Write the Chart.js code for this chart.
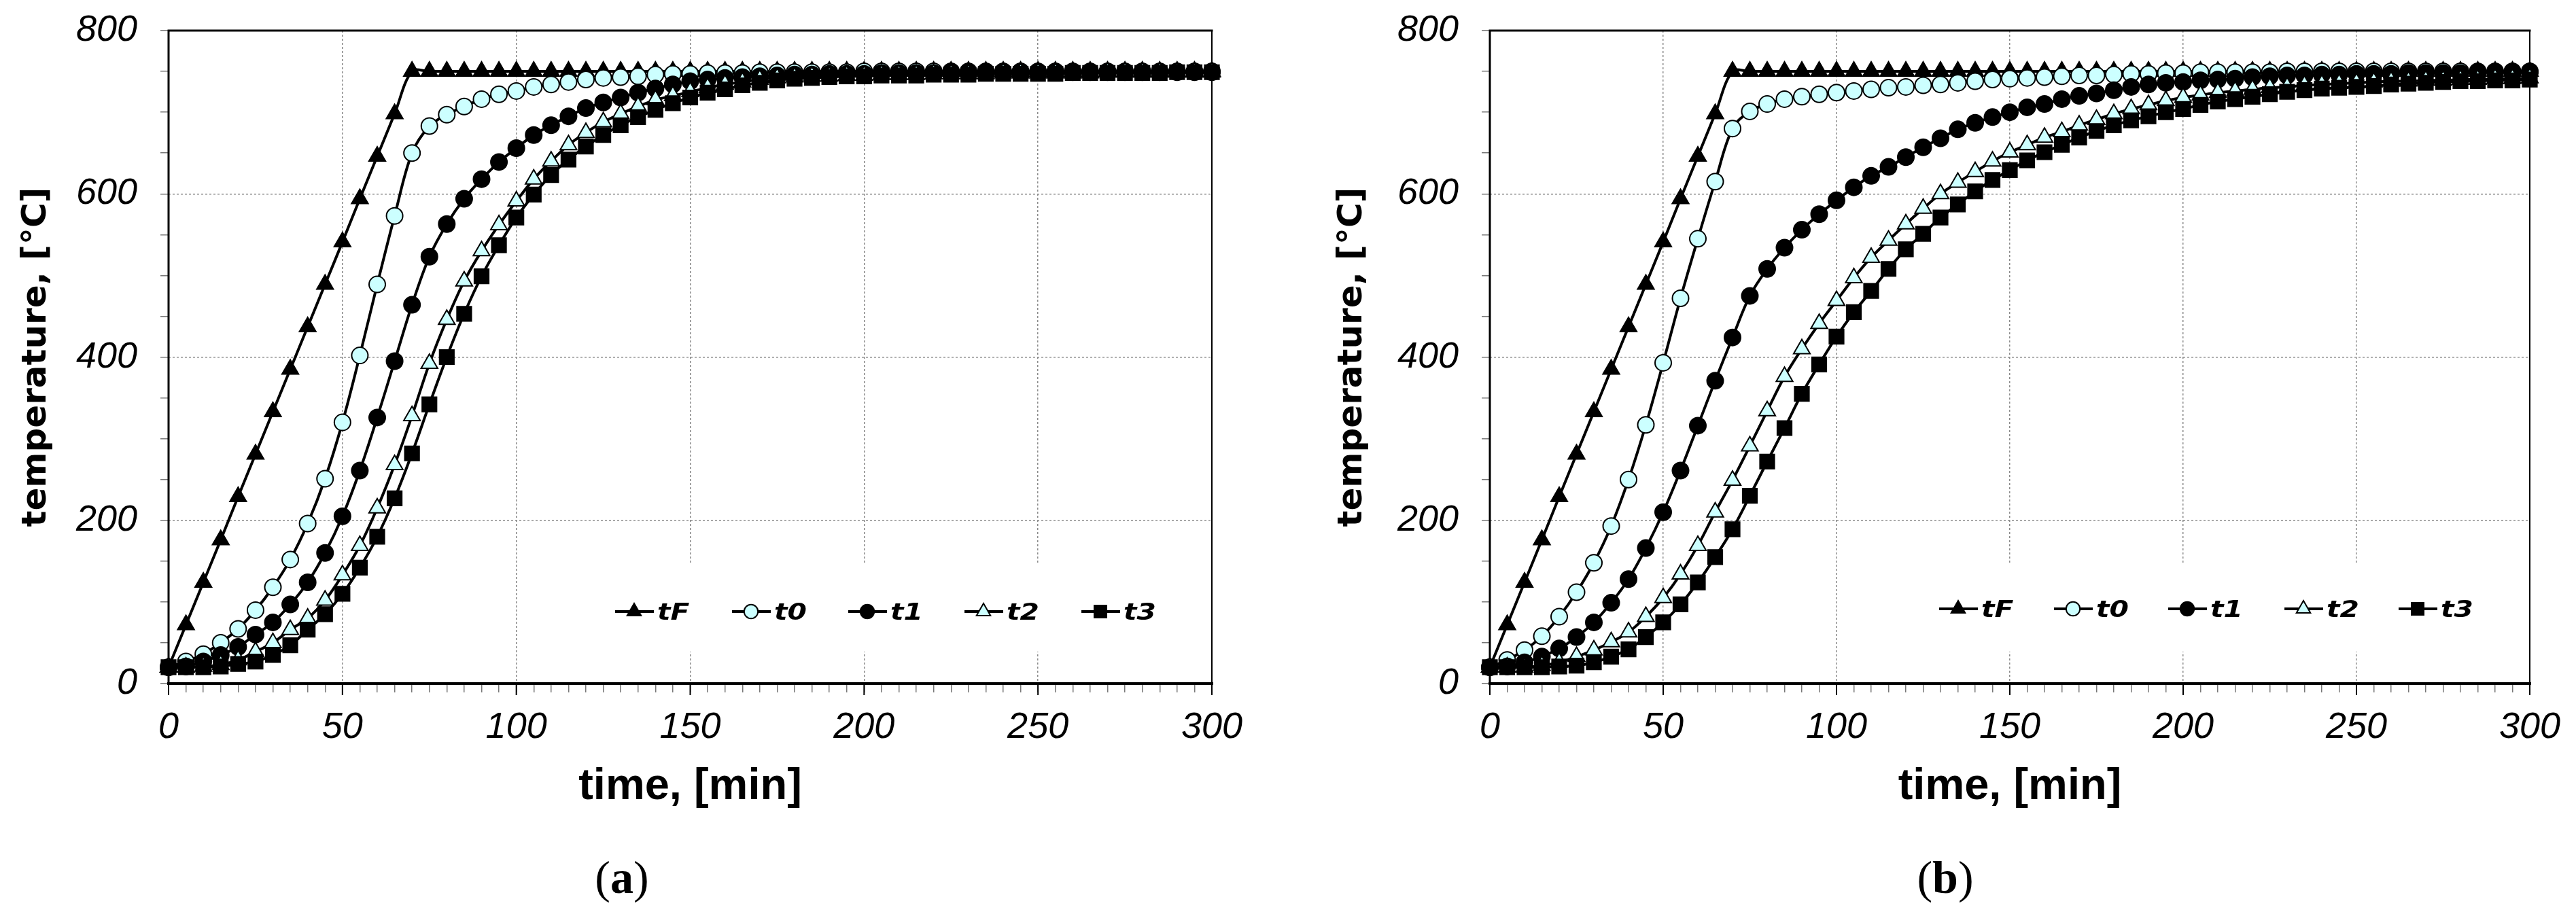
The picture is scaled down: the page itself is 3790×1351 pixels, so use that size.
<!DOCTYPE html>
<html>
<head>
<meta charset="utf-8">
<title>temperature vs time</title>
<script src="https://cdn.jsdelivr.net/npm/chart.js@4.4.0/dist/chart.umd.min.js"></script>
<style>
  html, body { margin: 0; padding: 0; background: #fff; }
  body { width: 3790px; height: 1351px; position: relative; overflow: hidden; }
  .panel { position: absolute; top: 0; width: 1895px; height: 1230px; }
  .cap { position: absolute; top: 1252px; font-family: 'Liberation Serif', serif; font-size: 68px; line-height: 78px; color: #000; transform: translateX(-50%); }
</style>
</head>
<body>
<div class="panel" style="left:0"><canvas id="chart-a"></canvas></div>
<div class="panel" style="left:1895px"><canvas id="chart-b"></canvas></div>
<div class="cap" style="left:915px">(<b>a</b>)</div>
<div class="cap" style="left:2862px">(<b>b</b>)</div>
<script>
'use strict';

// #pragma Data

// time axis, one point every 5 minutes
let times = [
  0, 5, 10, 15, 20, 25, 30, 35, 40, 45,
  50, 55, 60, 65, 70, 75, 80, 85, 90, 95,
  100, 105, 110, 115, 120, 125, 130, 135, 140, 145,
  150, 155, 160, 165, 170, 175, 180, 185, 190, 195,
  200, 205, 210, 215, 220, 225, 230, 235, 240, 245,
  250, 255, 260, 265, 270, 275, 280, 285, 290, 295,
  300
];

let seriesNames = ['tF', 't0', 't1', 't2', 't3'];

let xTickLabels = [0, 50, 100, 150, 200, 250, 300];
let yTickLabels = [0, 200, 400, 600, 800];

// furnace temperature, same in both panels
let tF = [
  20, 72, 124, 176, 229, 281, 333, 385, 437, 489,
  541, 594, 646, 698, 750, 750, 750, 750, 750, 750,
  750, 750, 750, 750, 750, 750, 750, 750, 750, 750,
  750, 750, 750, 750, 750, 750, 750, 750, 750, 750,
  750, 750, 750, 750, 750, 750, 750, 750, 750, 750,
  750, 750, 750, 750, 750, 750, 750, 750, 750, 750,
  750
];

// panel (a)
let t0a = [
  20, 27, 36, 50, 67, 90, 118, 152, 196, 251,
  320, 402, 489, 573, 650, 683, 697, 707, 716, 722,
  726, 731, 734, 737, 740, 742, 743, 744, 746, 747,
  747, 748, 748, 748, 749, 749, 749, 749, 749, 749,
  750, 750, 750, 750, 750, 750, 750, 750, 750, 750,
  750, 750, 750, 750, 750, 750, 750, 750, 750, 750,
  750
];
let t1a = [
  20, 21, 27, 35, 45, 60, 75, 97, 124, 160,
  205, 261, 326, 395, 464, 523, 563, 594, 618, 639,
  656, 672, 684, 695, 705, 712, 718, 724, 729, 734,
  738, 740, 742, 743, 744, 745, 746, 746, 747, 747,
  747, 748, 748, 748, 748, 749, 749, 749, 749, 749,
  749, 749, 749, 749, 749, 749, 749, 749, 749, 749,
  749
];
let t2a = [
  20, 20, 21, 23, 29, 39, 50, 66, 80, 102,
  133, 169, 215, 268, 328, 392, 446, 493, 530, 562,
  591, 618, 640, 660, 675, 688, 698, 707, 715, 720,
  725, 730, 734, 737, 740, 742, 743, 744, 744, 745,
  745, 746, 746, 746, 747, 747, 747, 747, 748, 748,
  748, 748, 748, 748, 749, 749, 749, 749, 749, 749,
  749
];
let t3a = [
  20, 20, 20, 21, 24, 27, 35, 47, 66, 85,
  110, 142, 180, 227, 282, 342, 400, 453, 499, 537,
  571, 599, 623, 642, 658, 672, 684, 694, 703, 711,
  718, 724, 728, 733, 736, 739, 741, 742, 743, 744,
  744, 745, 745, 745, 746, 746, 746, 747, 747, 747,
  747, 747, 748, 748, 748, 748, 748, 748, 749, 749,
  749
];

// panel (b)
let t0b = [
  20, 29, 41, 58, 82, 112, 148, 193, 250, 317,
  393, 472, 545, 615, 680, 701, 710, 716, 719, 722,
  724, 726, 728, 730, 731, 733, 734, 736, 738, 740,
  741, 742, 743, 744, 745, 745, 746, 747, 747, 748,
  748, 749, 749, 749, 749, 749, 750, 750, 750, 750,
  750, 750, 750, 750, 750, 750, 750, 750, 750, 750,
  750
];
let t1b = [
  20, 21, 26, 33, 43, 57, 75, 99, 128, 166,
  210, 261, 316, 371, 424, 475, 508, 534, 556, 575,
  592, 608, 622, 633, 645, 657, 668, 679, 687, 694,
  700, 706, 710, 716, 720, 723, 727, 731, 734, 736,
  737, 739, 740, 741, 743, 744, 745, 745, 746, 746,
  747, 747, 747, 748, 748, 748, 748, 749, 749, 749,
  749
];
let t2b = [
  20, 20, 20, 22, 26, 33, 41, 51, 63, 82,
  105, 134, 169, 210, 249, 291, 334, 376, 410, 441,
  469, 497, 522, 543, 563, 582, 600, 614, 627, 640,
  651, 660, 669, 676, 684, 691, 698, 704, 709, 714,
  718, 721, 724, 726, 728, 730, 731, 733, 734, 735,
  736, 737, 738, 738, 739, 739, 740, 740, 741, 741,
  742
];
let t3b = [
  20, 20, 20, 20, 21, 22, 26, 33, 42, 57,
  75, 97, 124, 155, 189, 230, 272, 313, 355, 391,
  425, 455, 481, 508, 532, 551, 571, 587, 603, 617,
  629, 641, 651, 660, 669, 677, 684, 690, 695, 700,
  704, 709, 713, 716, 719, 722, 725, 727, 729, 730,
  731, 732, 734, 735, 736, 737, 738, 738, 739, 739,
  740
];

// #pragma Styles

let seriesStyles = [
  { pointStyle: 'triangle', fill: '#000000', radius: 14 },
  { pointStyle: 'circle', fill: '#ccffff', radius: 12 },
  { pointStyle: 'circle', fill: '#000000', radius: 12 },
  { pointStyle: 'triangle', fill: '#ccffff', radius: 14 },
  { pointStyle: 'rect', fill: '#000000', radius: 15 },
];

let tickFont = { family: "'Liberation Sans', Arial, sans-serif", size: 54, style: 'italic' };
let xTitleFont = { family: "'Liberation Sans', Arial, sans-serif", size: 65, weight: 'bold' };
let yTitleFont = { family: "'DejaVu Sans', sans-serif", size: 50, weight: 'bold' };

// #pragma Plugin: plot frame + legend inside the plot

let frameAndLegend = {
  id: 'frameAndLegend',
  beforeDatasetsDraw(chart, args, opts) {
    let ctx = chart.ctx;
    let area = chart.chartArea;
    let xScale = chart.scales.x;

    ctx.save();

    // white legend box cuts the grid lines
    ctx.fillStyle = '#ffffff';
    ctx.fillRect(opts.box[0], opts.box[1], opts.box[2], opts.box[3]);

    // frame
    ctx.strokeStyle = '#000';
    ctx.lineCap = 'square';
    ctx.lineWidth = 3;
    ctx.beginPath();
    ctx.moveTo(area.left, area.top);
    ctx.lineTo(area.right, area.top);
    ctx.moveTo(area.left, area.top);
    ctx.lineTo(area.left, area.bottom);
    ctx.stroke();
    ctx.lineWidth = 2;
    ctx.beginPath();
    ctx.moveTo(area.right, area.top);
    ctx.lineTo(area.right, area.bottom);
    ctx.stroke();
    ctx.lineWidth = 4;
    ctx.beginPath();
    ctx.moveTo(area.left, area.bottom);
    ctx.lineTo(area.right, area.bottom);
    ctx.stroke();

    // longer major ticks on the time axis
    ctx.lineWidth = 2;
    ctx.lineCap = 'butt';
    for (let i = 0; i < xTickLabels.length; i++) {
      let px = xScale.getPixelForValue(xTickLabels[i]);
      ctx.beginPath();
      ctx.moveTo(px, area.bottom);
      ctx.lineTo(px, area.bottom + 17);
      ctx.stroke();
    }

    // legend items
    for (let i = 0; i < seriesNames.length; i++) {
      let x0 = opts.itemX[i];
      let y = opts.itemY;
      let style = seriesStyles[i];

      ctx.strokeStyle = '#000';
      ctx.lineWidth = 4;
      ctx.beginPath();
      ctx.moveTo(x0, y);
      ctx.lineTo(x0 + 57, y);
      ctx.stroke();

      ctx.fillStyle = style.fill;
      ctx.lineWidth = 2;
      Chart.helpers.drawPoint(ctx, {
        pointStyle: style.pointStyle,
        radius: style.radius * 0.85,
        borderWidth: 2,
        rotation: 0,
      }, x0 + 28, y);

      ctx.save();
      ctx.fillStyle = '#000';
      ctx.font = 'italic bold 34px "DejaVu Sans", sans-serif';
      ctx.textBaseline = 'alphabetic';
      ctx.translate(x0 + 62, y + 12);
      ctx.scale(1.2, 1);
      ctx.fillText(seriesNames[i], 0, 0);
      ctx.restore();
    }

    ctx.restore();
  },
};

// #pragma Chart builder

function buildChart(canvasId, seriesData, layout) {
  let datasets = [];
  for (let i = 0; i < seriesNames.length; i++) {
    let style = seriesStyles[i];
    datasets.push({
      label: seriesNames[i],
      data: times.map((t, j) => ({ x: t, y: seriesData[i][j] })),
      borderColor: '#000',
      borderWidth: 4,
      tension: 0.35,
      pointStyle: style.pointStyle,
      pointRadius: style.radius,
      pointBackgroundColor: style.fill,
      pointBorderColor: '#000',
      pointBorderWidth: 2,
      order: seriesNames.length - i, // t3 on top, like the original
      clip: false,
    });
  }

  let chartConfig = {
    type: 'line',
    data: { datasets: datasets },
    options: {
      responsive: true,
      maintainAspectRatio: false,
      animation: false,
      devicePixelRatio: 1,
      layout: { padding: { left: 0, top: 45, right: layout.padRight, bottom: 0 } },
      plugins: {
        legend: { display: false },
        tooltip: { enabled: false },
        frameAndLegend: { box: layout.box, itemX: layout.itemX, itemY: layout.itemY },
      },
      scales: {
        x: {
          type: 'linear',
          min: 0,
          max: 300,
          afterFit: (scale) => {
            scale.height = layout.xAxisHeight;
            scale.paddingLeft = 0;
            scale.paddingRight = 0;
          },
          ticks: {
            stepSize: 5,
            autoSkip: false,
            minRotation: 0,
            maxRotation: 0,
            padding: 20,
            font: tickFont,
            color: '#000',
            callback: (v) => (xTickLabels.includes(v) ? String(v) : ''),
          },
          grid: {
            color: (c) => (c.tick && xTickLabels.includes(c.tick.value) ? '#8c8c8c' : 'rgba(0,0,0,0)'),
            lineWidth: 1.5,
            tickLength: 13,
            tickColor: '#777',
            tickWidth: 1.5,
            tickBorderDash: [],
          },
          border: { display: false, dash: [3, 3] },
          title: {
            display: true,
            text: 'time, [min]',
            font: xTitleFont,
            color: '#000',
            padding: { top: 0, bottom: 33 },
          },
        },
        y: {
          min: 0,
          max: 800,
          afterFit: (scale) => {
            scale.width = layout.yAxisWidth;
            scale.paddingTop = 0;
            scale.paddingBottom = 0;
          },
          ticks: {
            stepSize: 50,
            autoSkip: false,
            padding: 34,
            font: tickFont,
            color: '#000',
            callback: (v) => (yTickLabels.includes(v) ? String(v) : ''),
          },
          grid: {
            color: (c) => (c.tick && yTickLabels.includes(c.tick.value) ? '#8c8c8c' : 'rgba(0,0,0,0)'),
            lineWidth: 1.5,
            tickLength: 12,
            tickColor: '#777',
            tickWidth: 1.5,
            tickBorderDash: [],
          },
          border: { display: false, dash: [3, 3] },
          title: {
            display: true,
            text: 'temperature, [°C]',
            font: yTitleFont,
            color: '#000',
            padding: { top: layout.yTitlePad, bottom: 0 },
          },
        },
      },
    },
    plugins: [frameAndLegend],
  };

  return new Chart(document.getElementById(canvasId).getContext('2d'), chartConfig);
}

// #pragma Executable

buildChart('chart-a', [tF, t0a, t1a, t2a, t3a], {
  yAxisWidth: 248,
  xAxisHeight: 224,
  padRight: 112,
  yTitlePad: 24,
  box: [890, 828, 825, 131],
  itemX: [905, 1077, 1248, 1419, 1591],
  itemY: 900,
});

buildChart('chart-b', [tF, t0b, t1b, t2b, t3b], {
  yAxisWidth: 297,
  xAxisHeight: 224,
  padRight: 68,
  yTitlePad: 65,
  box: [945, 828, 815, 131],
  itemX: [958, 1127, 1295, 1466, 1634],
  itemY: 896,
});
</script>
</body>
</html>
